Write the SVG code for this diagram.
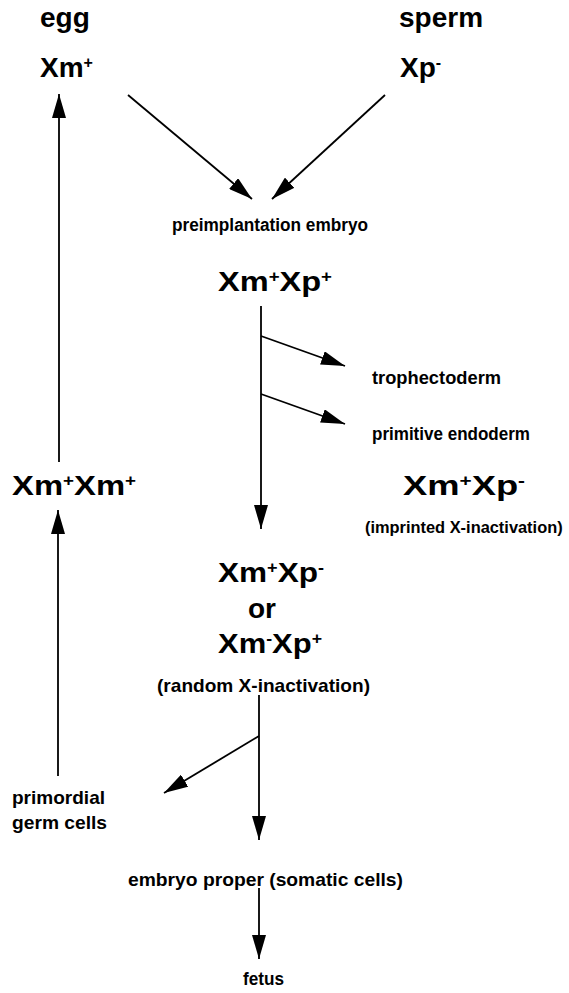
<svg xmlns="http://www.w3.org/2000/svg" width="569" height="993" viewBox="0 0 569 993">
<defs>
<marker id="ah" markerUnits="userSpaceOnUse" markerWidth="24" markerHeight="14" refX="24" refY="7" orient="auto"><path d="M0,0 L24,7 L0,14 z" fill="#000"/></marker>
<style>
.t{font-family:"Liberation Sans",Arial,sans-serif;font-weight:bold;fill:#000}
.big{font-size:28px}
.gen{font-size:28px}
.lab{font-size:17.5px}
.lab2{font-size:19px}
.sup{font-size:16px}
.c{stroke:#000;stroke-width:1.8;fill:none;marker-end:url(#ah)}
</style>
</defs>
<rect width="569" height="993" fill="#fff"/>
<g id="connectors">
<line class="c" x1="128" y1="95" x2="252" y2="199"/>
<line class="c" x1="385" y1="95" x2="272" y2="199"/>
<line class="c" x1="59" y1="462" x2="59" y2="94"/>
<line class="c" x1="58" y1="776" x2="58" y2="510"/>
<line class="c" x1="261" y1="306" x2="261" y2="529"/>
<line class="c" x1="261" y1="336" x2="345" y2="366"/>
<line class="c" x1="261" y1="394" x2="345" y2="424"/>
<line class="c" x1="259" y1="695" x2="259" y2="840"/>
<line class="c" x1="259" y1="736" x2="164" y2="793"/>
<line class="c" x1="259" y1="888" x2="259" y2="959"/>
</g>
<g id="egg"><text class="t big" x="40" y="27">egg</text></g>
<g id="sperm"><text class="t big" x="399" y="27">sperm</text></g>
<g id="xm-egg"><text class="t big" x="40" y="77">Xm<tspan class="sup" dy="-9">+</tspan></text></g>
<g id="xp-sperm"><text class="t big" x="400" y="77">Xp<tspan class="sup" dy="-9">-</tspan></text></g>
<g id="preimplantation"><text class="t lab" x="172" y="231" textLength="196" lengthAdjust="spacingAndGlyphs">preimplantation embryo</text></g>
<g id="xmxp-pre"><text class="t gen" x="218" y="291" textLength="114" lengthAdjust="spacingAndGlyphs">Xm<tspan class="sup" dy="-9">+</tspan><tspan dy="9">Xp</tspan><tspan class="sup" dy="-9">+</tspan></text></g>
<g id="trophectoderm"><text class="t lab" x="372" y="384" textLength="129" lengthAdjust="spacingAndGlyphs">trophectoderm</text></g>
<g id="primitive-endoderm"><text class="t lab" x="372" y="440" textLength="158" lengthAdjust="spacingAndGlyphs">primitive endoderm</text></g>
<g id="xmxm"><text class="t gen" x="12" y="495" textLength="124" lengthAdjust="spacingAndGlyphs">Xm<tspan class="sup" dy="-9">+</tspan><tspan dy="9">Xm</tspan><tspan class="sup" dy="-9">+</tspan></text></g>
<g id="imprinted"><text class="t gen" x="403" y="495" textLength="122" lengthAdjust="spacingAndGlyphs">Xm<tspan class="sup" dy="-9">+</tspan><tspan dy="9">Xp</tspan><tspan class="sup" dy="-9">-</tspan></text>
<text class="t" x="365" y="533" font-size="16.4">(imprinted X-inactivation)</text></g>
<g id="random"><text class="t gen" x="218" y="582" textLength="106" lengthAdjust="spacingAndGlyphs">Xm<tspan class="sup" dy="-9">+</tspan><tspan dy="9">Xp</tspan><tspan class="sup" dy="-9">-</tspan></text>
<text class="t gen" x="262" y="618" text-anchor="middle">or</text>
<text class="t gen" x="218" y="653" textLength="104" lengthAdjust="spacingAndGlyphs">Xm<tspan class="sup" dy="-9">-</tspan><tspan dy="9">Xp</tspan><tspan class="sup" dy="-9">+</tspan></text>
<text class="t lab2" x="157" y="692" textLength="213" lengthAdjust="spacingAndGlyphs">(random X-inactivation)</text></g>
<g id="primordial"><text class="t lab2" x="12" y="804" textLength="93" lengthAdjust="spacingAndGlyphs">primordial</text><text class="t lab2" x="12" y="829" textLength="95" lengthAdjust="spacingAndGlyphs">germ cells</text></g>
<g id="embryo-proper"><text class="t lab2" x="128" y="886" textLength="275" lengthAdjust="spacingAndGlyphs">embryo proper (somatic cells)</text></g>
<g id="fetus"><text class="t lab" x="243" y="985" textLength="41" lengthAdjust="spacingAndGlyphs">fetus</text></g>
</svg>
